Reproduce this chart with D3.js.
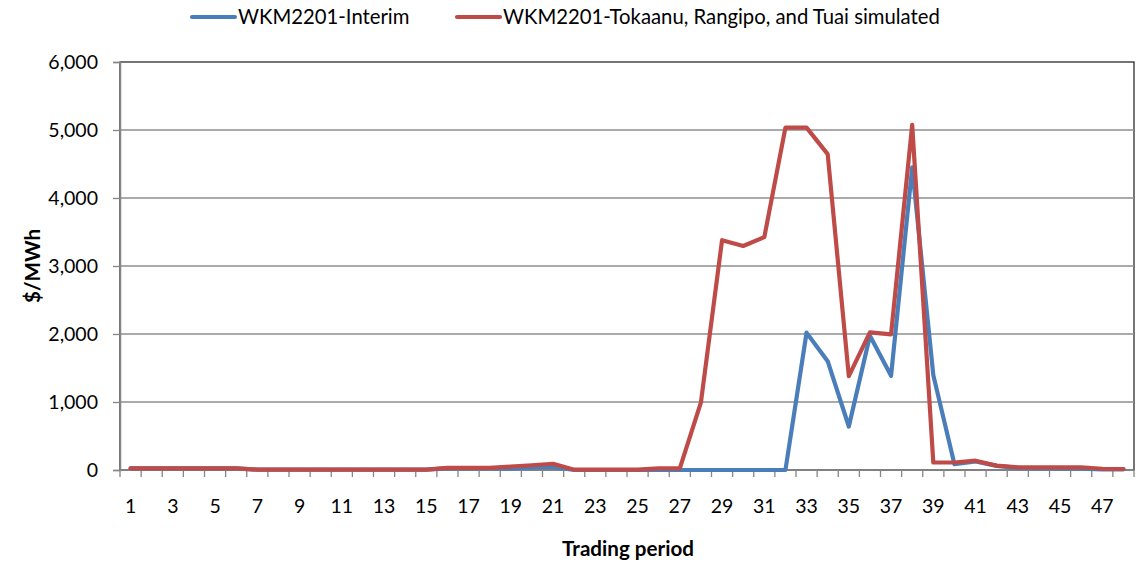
<!DOCTYPE html>
<html>
<head>
<meta charset="utf-8">
<script src="https://cdn.jsdelivr.net/npm/d3@7"></script>
<style>
  html, body { margin: 0; padding: 0; background: #fff; }
  svg { display: block; font-family: Lato, "Open Sans", sans-serif; }
</style>
</head>
<body>
<svg id="chart" width="1146" height="567"></svg>
<script>
// trading periods 1..48
const periods = d3.range(1, 49);

// WKM2201-Interim ($/MWh)
const interim = [
  25, 25, 25, 25, 25, 25, 5, 5, 5, 5, 5, 5,
  5, 5, 5, 25, 25, 25, 20, 40, 45, 0, 0, 0,
  0, 0, 0, 0, 0, 0, 0, 0, 2020, 1600, 640, 1975,
  1385, 4450, 1395, 85, 125, 60, 30, 25, 25, 20, 10, 10
];

// WKM2201-Tokaanu, Rangipo, and Tuai simulated ($/MWh)
const simulated = [
  25, 25, 25, 25, 25, 25, 5, 5, 5, 5, 5, 5,
  5, 5, 5, 30, 30, 30, 50, 70, 92, 5, 5, 5,
  5, 25, 25, 995, 3380, 3295, 3425, 5035, 5035, 4645, 1380, 2025,
  1995, 5075, 110, 110, 137, 65, 40, 40, 40, 40, 18, 15
];

const yTicks = [0, 1000, 2000, 3000, 4000, 5000, 6000];
const xLabels = periods.filter(function (p) { return p % 2 === 1; });

const seriesNames = ['WKM2201-Interim', 'WKM2201-Tokaanu, Rangipo, and Tuai simulated'];
const seriesColors = ['#4a7ebb', '#be4b48'];

const W = 1146, H = 567;
const m = { left: 120, right: 12, top: 62, bottom: 97 };
const iw = W - m.left - m.right, ih = H - m.top - m.bottom;
const FS = 19.5;   // tick labels
const FL = 20.3;   // legend
const FT = 20.6;   // axis titles

const svg = d3.select('#chart');
const g = svg.append('g').attr('transform', 'translate(' + m.left + ',' + m.top + ')');

const x = d3.scaleBand().domain(periods).range([0, iw]);
const y = d3.scaleLinear().domain([0, 6000]).range([ih, 0]);
const cx = function (p) { return x(p) + x.bandwidth() / 2; };

// plot frame (top / right dark)
g.append('rect').attr('width', iw).attr('height', ih)
  .attr('fill', 'none').attr('stroke', '#2b2b2b').attr('stroke-width', 1.3);

// gridlines
g.selectAll('line.grid').data(yTicks.filter(function (t) { return t > 0 && t < 6000; })).join('line')
  .attr('class', 'grid')
  .attr('x1', 0).attr('x2', iw)
  .attr('y1', function (d) { return y(d); }).attr('y2', function (d) { return y(d); })
  .attr('stroke', '#8e8e8e').attr('stroke-width', 1.5);

// y axis
const yAxis = g.append('g').call(
  d3.axisLeft(y).tickValues(yTicks).tickSize(7).tickPadding(15).tickFormat(d3.format(','))
);
yAxis.select('.domain').attr('stroke', '#868686').attr('stroke-width', 1.5);
yAxis.selectAll('.tick line').attr('stroke', '#868686').attr('stroke-width', 1.3);
yAxis.selectAll('.tick text').attr('font-size', FS).attr('fill', '#000').attr('font-family', 'Lato');

// x axis: ticks on band edges, labels on odd periods
const xg = g.append('g').attr('transform', 'translate(0,' + ih + ')');
xg.append('line').attr('x1', 0).attr('x2', iw).attr('stroke', '#868686').attr('stroke-width', 1.5);
const edges = periods.map(function (p) { return x(p); }).concat([iw]);
xg.selectAll('line.tk').data(edges).join('line')
  .attr('class', 'tk')
  .attr('x1', function (d) { return d; }).attr('x2', function (d) { return d; })
  .attr('y1', 0).attr('y2', 7)
  .attr('stroke', '#868686').attr('stroke-width', 1.3);
xg.selectAll('text.lb').data(xLabels).join('text')
  .attr('class', 'lb')
  .attr('x', function (d) { return cx(d); }).attr('y', 43)
  .attr('text-anchor', 'middle').attr('font-size', FS).attr('fill', '#000')
  .text(function (d) { return d; });

// lines
const line = d3.line().x(function (d, i) { return cx(periods[i]); }).y(function (d) { return y(d); });
[interim, simulated].forEach(function (vals, i) {
  g.append('path').datum(vals)
    .attr('d', line)
    .attr('fill', 'none').attr('stroke', seriesColors[i])
    .attr('stroke-width', 4.2).attr('stroke-linejoin', 'round').attr('stroke-linecap', 'round');
});

// axis titles
svg.append('text')
  .attr('transform', 'translate(40,' + (m.top + ih / 2) + ') rotate(-90)')
  .attr('text-anchor', 'middle').attr('font-size', FT).attr('font-weight', 'bold')
  .text('$/MWh');
svg.append('text')
  .attr('x', 628).attr('y', 556)
  .attr('text-anchor', 'middle').attr('font-size', FT).attr('font-weight', 'bold')
  .text('Trading period');

// legend
const legX = [192, 457];
seriesNames.forEach(function (name, i) {
  const lg = svg.append('g').attr('transform', 'translate(' + legX[i] + ',17)');
  lg.append('line').attr('x1', 0).attr('x2', 43)
    .attr('stroke', seriesColors[i]).attr('stroke-width', 4.2).attr('stroke-linecap', 'round');
  lg.append('text').attr('x', 46).attr('y', 7).attr('font-size', FL).text(name);
});
</script>
</body>
</html>
